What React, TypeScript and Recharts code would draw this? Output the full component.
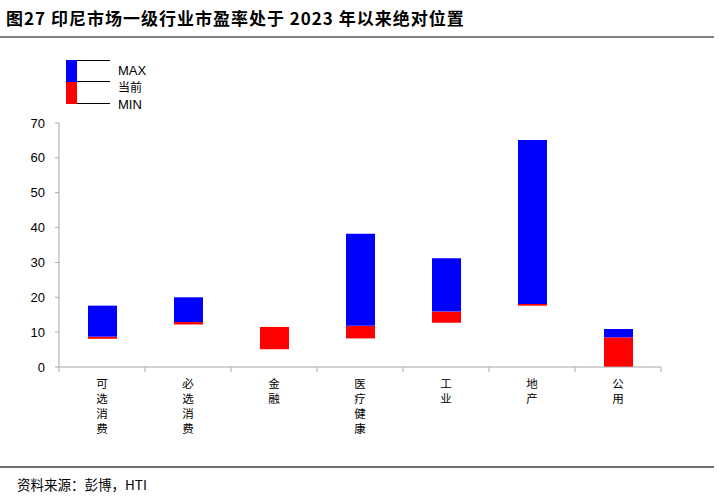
import { BarChart, Bar, XAxis, YAxis } from "recharts";

// 行业、最低、当前、最高市盈率（2023 年以来）
const sectors = ["可选消费", "必选消费", "金融", "医疗健康", "工业", "地产", "公用"];
const minPE = [8.1, 12.2, 5.1, 8.2, 12.7, 17.6, 0];
const curPE = [8.7, 12.9, 11.5, 11.8, 15.9, 18.1, 8.5];
const maxPE = [17.6, 20.0, 11.5, 38.2, 31.2, 65.1, 10.9];
const yTicks = [0, 10, 20, 30, 40, 50, 60, 70];

const data = sectors.map((name, i) => ({
  name,
  base: minPE[i],
  cur: curPE[i] - minPE[i],
  max: maxPE[i] - curPE[i],
}));

const cjk = '"Noto Sans CJK SC", sans-serif';
const latin = '"Liberation Sans", Arial, sans-serif';

function SectorTick(props: any) {
  const { x, y, payload, index } = props;
  const half = 43;
  const chars = String(payload.value).split("");
  return (
    <g>
      <line x1={x + half} y1={y - 8} x2={x + half} y2={y - 3} stroke="#a6a6a6" />
      {index === 0 && <line x1={x - half} y1={y - 8} x2={x - half} y2={y - 3} stroke="#a6a6a6" />}
      {chars.map((c, i) => (
        <text key={i} x={x} y={y + 13 + i * 15} textAnchor="middle" fontSize={11.5} fontFamily={cjk} fill="#000">
          {c}
        </text>
      ))}
    </g>
  );
}

function KeyBox() {
  return (
    <svg width={120} height={60} style={{ display: "block" }}>
      <rect x={6} y={0} width={11} height={22} fill="#0000ff" />
      <rect x={6} y={22} width={11} height={22} fill="#ff0000" />
      <line x1={17} y1={0.5} x2={50} y2={0.5} stroke="#000" />
      <line x1={17} y1={21.5} x2={50} y2={21.5} stroke="#000" />
      <line x1={17} y1={43.5} x2={50} y2={43.5} stroke="#000" />
      <text x={58} y={15} fontSize={13} fontFamily={latin} fill="#000">MAX</text>
      <text x={58} y={32} fontSize={12} fontFamily={cjk} fill="#000">当前</text>
      <text x={58} y={49} fontSize={13} fontFamily={latin} fill="#000">MIN</text>
    </svg>
  );
}

export default function App() {
  return (
    <div style={{ position: "absolute", left: 0, top: 0, width: 719, height: 498, background: "#fff" }}>
      <div
        style={{
          position: "absolute",
          left: 6,
          top: 5,
          fontFamily: cjk,
          fontWeight: 700,
          fontSize: 17,
          letterSpacing: 1,
          color: "#000",
          whiteSpace: "nowrap",
        }}
      >
        图27 印尼市场一级行业市盈率处于 2023 年以来绝对位置
      </div>
      <div style={{ position: "absolute", left: 0, top: 36, width: 714, height: 2, background: "#808080" }} />

      <BarChart
        width={719}
        height={498}
        data={data}
        margin={{ top: 123, right: 58, bottom: 71, left: 0 }}
        barSize={29}
        style={{ position: "absolute", left: 0, top: 0 }}
      >
        <XAxis
          dataKey="name"
          height={60}
          interval={0}
          axisLine={{ stroke: "#a6a6a6" }}
          tickLine={false}
          tick={<SectorTick />}
        />
        <YAxis
          width={59}
          domain={[0, 70]}
          ticks={yTicks}
          interval={0}
          tickSize={4}
          tickMargin={10}
          axisLine={{ stroke: "#a6a6a6" }}
          tickLine={{ stroke: "#a6a6a6" }}
          tick={{ fontSize: 13, fontFamily: latin, fill: "#000" }}
        />
        <Bar dataKey="base" stackId="pe" fill="transparent" isAnimationActive={false} />
        <Bar dataKey="cur" stackId="pe" fill="#ff0000" isAnimationActive={false} />
        <Bar dataKey="max" stackId="pe" fill="#0000ff" isAnimationActive={false} />
      </BarChart>

      <div style={{ position: "absolute", left: 60, top: 60 }}>
        <KeyBox />
      </div>

      <div style={{ position: "absolute", left: 0, top: 466, width: 714, height: 2, background: "#707070" }} />
      <div
        style={{
          position: "absolute",
          left: 17,
          top: 474,
          fontFamily: cjk,
          fontSize: 13.5,
          color: "#000",
          whiteSpace: "nowrap",
        }}
      >
        资料来源：彭博，HTI
      </div>
    </div>
  );
}
